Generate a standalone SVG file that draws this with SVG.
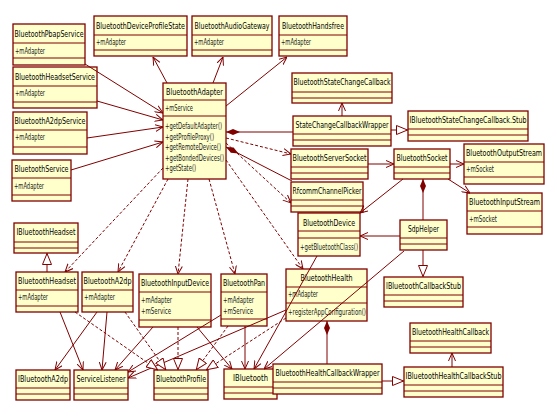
<svg xmlns="http://www.w3.org/2000/svg" width="557" height="417" viewBox="0 0 557 417">
<style>
.n rect{fill:#FFFFCC;stroke:#800000;stroke-width:1.3}
.n path{fill:none;stroke:#800000;stroke-width:1}
.n text{font-family:"DejaVu Sans Condensed","Liberation Sans",sans-serif;font-size:8.5px;fill:#1a1a1a}
.n .tt{text-anchor:middle;fill:#000}
#edges path{fill:none;stroke:#800000;stroke-width:1}
#edges .d{stroke-dasharray:3,2}
#edges .a{marker-end:url(#arr)}
#edges .g{marker-end:url(#tri)}
#edges .c{marker-start:url(#dia)}
</style>
<defs>
<marker id="arr" viewBox="0 0 8 8" refX="8" refY="4" markerWidth="8" markerHeight="8" orient="auto" markerUnits="userSpaceOnUse"><path d="M0,0.5 L8,4 L0,7.5" fill="none" stroke="#800000" stroke-width="1"/></marker>
<marker id="tri" viewBox="0 0 12 10" refX="12" refY="5" markerWidth="12" markerHeight="10" orient="auto" markerUnits="userSpaceOnUse"><path d="M0.5,0.5 L11.5,5 L0.5,9.5Z" fill="#fff" stroke="#800000" stroke-width="1"/></marker>
<marker id="dia" viewBox="0 0 14 8" refX="0" refY="4" markerWidth="14" markerHeight="8" orient="auto" markerUnits="userSpaceOnUse"><path d="M0,4 L7,1 L14,4 L7,7Z" fill="#800000"/></marker>
</defs>
<rect width="557" height="417" fill="#fff"/>
<g id="nodes">
<g id="BluetoothPbapService" class="n"><rect x="13" y="24" width="72" height="41"/><path d="M13 43H85M13 58H85"/><text class="tt" x="49" y="36.5" textLength="69" lengthAdjust="spacingAndGlyphs">BluetoothPbapService</text><text x="15" y="53.5" textLength="30" lengthAdjust="spacingAndGlyphs">+mAdapter</text></g>
<g id="BluetoothDeviceProfileState" class="n"><rect x="94" y="16" width="93" height="40"/><path d="M94 35H187M94 50H187"/><text class="tt" x="140.5" y="28.5" textLength="89" lengthAdjust="spacingAndGlyphs">BluetoothDeviceProfileState</text><text x="96" y="45" textLength="30" lengthAdjust="spacingAndGlyphs">+mAdapter</text></g>
<g id="BluetoothAudioGateway" class="n"><rect x="192" y="16" width="80" height="40"/><path d="M192 35H272M192 50H272"/><text class="tt" x="232" y="28.5" textLength="75" lengthAdjust="spacingAndGlyphs">BluetoothAudioGateway</text><text x="194" y="45" textLength="30" lengthAdjust="spacingAndGlyphs">+mAdapter</text></g>
<g id="BluetoothHandsfree" class="n"><rect x="279" y="16" width="68" height="40"/><path d="M279 35H347M279 50H347"/><text class="tt" x="313" y="28.5" textLength="62" lengthAdjust="spacingAndGlyphs">BluetoothHandsfree</text><text x="281" y="45" textLength="30" lengthAdjust="spacingAndGlyphs">+mAdapter</text></g>
<g id="BluetoothHeadsetService" class="n"><rect x="13" y="67" width="84" height="41"/><path d="M13 86H97M13 102H97"/><text class="tt" x="55" y="79.5" textLength="80" lengthAdjust="spacingAndGlyphs">BluetoothHeadsetService</text><text x="15" y="96" textLength="30" lengthAdjust="spacingAndGlyphs">+mAdapter</text></g>
<g id="BluetoothA2dpService" class="n"><rect x="13" y="112" width="74" height="42"/><path d="M13 130H87M13 147H87"/><text class="tt" x="50" y="124" textLength="71" lengthAdjust="spacingAndGlyphs">BluetoothA2dpService</text><text x="15" y="140" textLength="30" lengthAdjust="spacingAndGlyphs">+mAdapter</text></g>
<g id="BluetoothService" class="n"><rect x="12" y="160" width="59" height="41"/><path d="M12 178H71M12 195H71"/><text class="tt" x="41.5" y="172" textLength="54" lengthAdjust="spacingAndGlyphs">BluetoothService</text><text x="14" y="189" textLength="30" lengthAdjust="spacingAndGlyphs">+mAdapter</text></g>
<g id="IBluetoothHeadset" class="n"><rect x="14" y="223" width="64" height="30"/><path d="M14 242H78M14 248H78"/><text class="tt" x="46" y="235" textLength="59" lengthAdjust="spacingAndGlyphs">IBluetoothHeadset</text></g>
<g id="BluetoothAdapter" class="n"><rect x="163" y="83" width="63" height="96"/><path d="M163 100H226M163 116H226"/><text class="tt" x="194.5" y="95" textLength="57" lengthAdjust="spacingAndGlyphs">BluetoothAdapter</text><text x="165" y="111" textLength="28" lengthAdjust="spacingAndGlyphs">+mService</text><text x="165" y="129" textLength="57" lengthAdjust="spacingAndGlyphs">+getDefaultAdapter()</text><text x="165" y="139.5" textLength="49" lengthAdjust="spacingAndGlyphs">+getProfileProxy()</text><text x="165" y="150" textLength="56" lengthAdjust="spacingAndGlyphs">+getRemoteDevice()</text><text x="165" y="160.5" textLength="59" lengthAdjust="spacingAndGlyphs">+getBondedDevices()</text><text x="165" y="171" textLength="31" lengthAdjust="spacingAndGlyphs">+getState()</text></g>
<g id="BluetoothStateChangeCallback" class="n"><rect x="292" y="73" width="100" height="30"/><path d="M292 92H392M292 98H392"/><text class="tt" x="342" y="85" textLength="97" lengthAdjust="spacingAndGlyphs">BluetoothStateChangeCallback</text></g>
<g id="StateChangeCallbackWrapper" class="n"><rect x="293" y="116" width="98" height="30"/><path d="M293 134H391M293 140H391"/><text class="tt" x="342" y="128" textLength="93" lengthAdjust="spacingAndGlyphs">StateChangeCallbackWrapper</text></g>
<g id="IBluetoothStateChangeCallback.Stub" class="n"><rect x="408" y="111" width="120" height="30"/><path d="M408 129H528M408 135H528"/><text class="tt" x="468" y="123" textLength="117" lengthAdjust="spacingAndGlyphs">IBluetoothStateChangeCallback.Stub</text></g>
<g id="BluetoothServerSocket" class="n"><rect x="291" y="149" width="77" height="30"/><path d="M291 167H368M291 173H368"/><text class="tt" x="329.5" y="161" textLength="74" lengthAdjust="spacingAndGlyphs">BluetoothServerSocket</text></g>
<g id="BluetoothSocket" class="n"><rect x="394" y="149" width="56" height="30"/><path d="M394 167H450M394 173H450"/><text class="tt" x="422" y="161" textLength="51" lengthAdjust="spacingAndGlyphs">BluetoothSocket</text></g>
<g id="BluetoothOutputStream" class="n"><rect x="464" y="144" width="80" height="40"/><path d="M464 162H544M464 177H544"/><text class="tt" x="504" y="155.5" textLength="76" lengthAdjust="spacingAndGlyphs">BluetoothOutputStream</text><text x="466" y="172" textLength="28" lengthAdjust="spacingAndGlyphs">+mSocket</text></g>
<g id="BluetoothInputStream" class="n"><rect x="467" y="193" width="75" height="41"/><path d="M467 211H542M467 227H542"/><text class="tt" x="504.5" y="204.5" textLength="71" lengthAdjust="spacingAndGlyphs">BluetoothInputStream</text><text x="469" y="221.5" textLength="28" lengthAdjust="spacingAndGlyphs">+mSocket</text></g>
<g id="SdpHelper" class="n"><rect x="400" y="220" width="47" height="30"/><path d="M400 238H447M400 244H447"/><text class="tt" x="423.5" y="232" textLength="31" lengthAdjust="spacingAndGlyphs">SdpHelper</text></g>
<g id="RfcommChannelPicker" class="n"><rect x="291" y="182" width="72" height="30"/><path d="M291 200H363M291 206H363"/><text class="tt" x="327" y="194" textLength="69" lengthAdjust="spacingAndGlyphs">RfcommChannelPicker</text></g>
<g id="BluetoothDevice" class="n"><rect x="298" y="213" width="62" height="43"/><path d="M298 231H360M298 238H360"/><text class="tt" x="329" y="225.5" textLength="52" lengthAdjust="spacingAndGlyphs">BluetoothDevice</text><text x="300" y="250" textLength="58" lengthAdjust="spacingAndGlyphs">+getBluetoothClass()</text></g>
<g id="BluetoothHealth" class="n"><rect x="286" y="269" width="81" height="52"/><path d="M286 287H367M286 303H367"/><text class="tt" x="326.5" y="280.5" textLength="52" lengthAdjust="spacingAndGlyphs">BluetoothHealth</text><text x="288" y="297" textLength="30" lengthAdjust="spacingAndGlyphs">+mAdapter</text><text x="288" y="315" textLength="78" lengthAdjust="spacingAndGlyphs">+registerAppConfiguration()</text></g>
<g id="BluetoothPan" class="n"><rect x="221" y="274" width="46" height="52"/><path d="M221 292H267M221 319H267"/><text class="tt" x="244" y="286" textLength="42" lengthAdjust="spacingAndGlyphs">BluetoothPan</text><text x="223" y="303" textLength="31" lengthAdjust="spacingAndGlyphs">+mAdapter</text><text x="223" y="314" textLength="30" lengthAdjust="spacingAndGlyphs">+mService</text></g>
<g id="BluetoothInputDevice" class="n"><rect x="139" y="274" width="72" height="53"/><path d="M139 292H211M139 320H211"/><text class="tt" x="175" y="286" textLength="68" lengthAdjust="spacingAndGlyphs">BluetoothInputDevice</text><text x="141" y="303" textLength="31" lengthAdjust="spacingAndGlyphs">+mAdapter</text><text x="141" y="314" textLength="30" lengthAdjust="spacingAndGlyphs">+mService</text></g>
<g id="BluetoothA2dp" class="n"><rect x="82" y="272" width="51" height="40"/><path d="M82 290H133M82 306H133"/><text class="tt" x="107.5" y="284" textLength="48" lengthAdjust="spacingAndGlyphs">BluetoothA2dp</text><text x="84" y="299.5" textLength="31" lengthAdjust="spacingAndGlyphs">+mAdapter</text></g>
<g id="BluetoothHeadset" class="n"><rect x="16" y="272" width="62" height="40"/><path d="M16 290H78M16 306H78"/><text class="tt" x="47" y="284" textLength="58" lengthAdjust="spacingAndGlyphs">BluetoothHeadset</text><text x="18" y="299.5" textLength="30" lengthAdjust="spacingAndGlyphs">+mAdapter</text></g>
<g id="IBluetoothA2dp" class="n"><rect x="16" y="370" width="54" height="30"/><path d="M16 388H70M16 394H70"/><text class="tt" x="43" y="382" textLength="50" lengthAdjust="spacingAndGlyphs">IBluetoothA2dp</text></g>
<g id="ServiceListener" class="n"><rect x="74" y="370" width="54" height="30"/><path d="M74 388H128M74 394H128"/><text class="tt" x="101" y="382" textLength="49" lengthAdjust="spacingAndGlyphs">ServiceListener</text></g>
<g id="BluetoothProfile" class="n"><rect x="154" y="370" width="54" height="30"/><path d="M154 388H208M154 394H208"/><text class="tt" x="181" y="382" textLength="50" lengthAdjust="spacingAndGlyphs">BluetoothProfile</text></g>
<g id="IBluetooth" class="n"><rect x="224" y="369" width="53" height="30"/><path d="M224 387H277M224 393H277"/><text class="tt" x="250.5" y="381" textLength="35" lengthAdjust="spacingAndGlyphs">IBluetooth</text></g>
<g id="BluetoothHealthCallbackWrapper" class="n"><rect x="273" y="364" width="109" height="30"/><path d="M273 382H382M273 388H382"/><text class="tt" x="327.5" y="376" textLength="104" lengthAdjust="spacingAndGlyphs">BluetoothHealthCallbackWrapper</text></g>
<g id="IBluetoothCallbackStub" class="n"><rect x="384" y="277" width="79" height="30"/><path d="M384 295H463M384 301H463"/><text class="tt" x="423.5" y="289" textLength="75" lengthAdjust="spacingAndGlyphs">IBluetoothCallbackStub</text></g>
<g id="BluetoothHealthCallback" class="n"><rect x="410" y="323" width="81" height="30"/><path d="M410 341H491M410 347H491"/><text class="tt" x="450.5" y="335" textLength="77" lengthAdjust="spacingAndGlyphs">BluetoothHealthCallback</text></g>
<g id="IBluetoothHealthCallbackStub" class="n"><rect x="404" y="367" width="99" height="30"/><path d="M404 385H503M404 391H503"/><text class="tt" x="453.5" y="379" textLength="96" lengthAdjust="spacingAndGlyphs">IBluetoothHealthCallbackStub</text></g>
</g>
<g id="edges">
<path class="a" d="M167 83L153 57"/>
<path class="a" d="M213 83L223 57"/>
<path class="a" d="M226 106L287 57"/>
<path class="a" d="M85 64L163 113"/>
<path class="a" d="M97 101L163 120"/>
<path class="a" d="M87 138L163 127"/>
<path class="a" d="M71 170L163 142"/>
<path class="a" d="M342 116L342 103"/>
<path class="a" d="M368 164L394 164"/>
<path class="a" d="M450 164L464 164"/>
<path class="a" d="M448 179L470 193"/>
<path class="a" d="M403 179L360 213"/>
<path class="a" d="M400 236L360 236"/>
<path class="a" d="M404 251L264 369"/>
<path class="a" d="M317 256L254 369"/>
<path class="a" d="M197 327L232 369"/>
<path class="a" d="M245 326L245 369"/>
<path class="a" d="M60 312L83 370"/>
<path class="a" d="M107 312L102 370"/>
<path class="a" d="M97 312L55 370"/>
<path class="a" d="M153 327L115 370"/>
<path class="a" d="M221 315L128 372"/>
<path class="a" d="M286 310L128 378"/>
<path class="a" d="M452 367L452 353"/>
<path class="a d" d="M163 168L65 272"/>
<path class="a d" d="M168 179L118 272"/>
<path class="a d" d="M188 179L178 274"/>
<path class="a d" d="M209 179L235 274"/>
<path class="a d" d="M226 160L303 269"/>
<path class="a d" d="M226 143L291 203"/>
<path class="a d" d="M226 138L291 154"/>
<path class="g d" d="M75 312L158 370"/>
<path class="g d" d="M125 312L166 370"/>
<path class="g d" d="M178 327L178 370"/>
<path class="g d" d="M228 326L196 370"/>
<path class="g d" d="M286 318L206 370"/>
<path class="g" d="M47 272L47 253"/>
<path class="g" d="M391 130L408 130"/>
<path class="g" d="M423 250L423 277"/>
<path class="g" d="M382 381L404 381"/>
<path class="c" d="M226 132L293 132"/>
<path class="c" d="M226 147L292 181"/>
<path class="c" d="M423 179L423 220"/>
<path class="c" d="M327 321L327 364"/>
</g>
</svg>
